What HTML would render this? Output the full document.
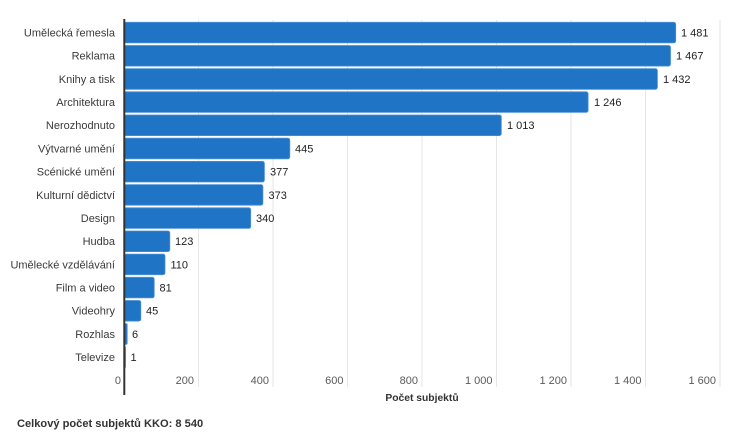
<!DOCTYPE html>
<html><head><meta charset="utf-8"><style>
html,body{margin:0;padding:0;background:#fff;}
svg{display:block;font-family:"Liberation Sans",Arial,sans-serif;}
</style></head><body>
<svg width="750" height="441" viewBox="0 0 750 441" xmlns="http://www.w3.org/2000/svg">
<g stroke="#e6e6e6" stroke-width="1">
<line x1="198.5" y1="20" x2="198.5" y2="387"/>
<line x1="273" y1="20" x2="273" y2="387"/>
<line x1="347.5" y1="20" x2="347.5" y2="387"/>
<line x1="422" y1="20" x2="422" y2="387"/>
<line x1="496.5" y1="20" x2="496.5" y2="387"/>
<line x1="571" y1="20" x2="571" y2="387"/>
<line x1="645.5" y1="20" x2="645.5" y2="387"/>
<line x1="720" y1="20" x2="720" y2="387"/>
</g>
<g fill="#1f74c6" stroke="#4a90d4" stroke-width="0.8">
<rect x="124" y="22.3" width="551.7" height="20.6" rx="2"/>
<rect x="124" y="45.5" width="546.5" height="20.6" rx="2"/>
<rect x="124" y="68.7" width="533.4" height="20.6" rx="2"/>
<rect x="124" y="91.8" width="464.1" height="20.6" rx="2"/>
<rect x="124" y="115.0" width="377.3" height="20.6" rx="2"/>
<rect x="124" y="138.2" width="165.8" height="20.6" rx="2"/>
<rect x="124" y="161.4" width="140.4" height="20.6" rx="2"/>
<rect x="124" y="184.6" width="138.9" height="20.6" rx="2"/>
<rect x="124" y="207.8" width="126.7" height="20.6" rx="2"/>
<rect x="124" y="231.0" width="45.8" height="20.6" rx="2"/>
<rect x="124" y="254.1" width="41.0" height="20.6" rx="2"/>
<rect x="124" y="277.3" width="30.2" height="20.6" rx="2"/>
<rect x="124" y="300.5" width="16.8" height="20.6" rx="2"/>
<rect x="124" y="323.7" width="3.2" height="20.6" rx="1"/>
<rect x="124" y="346.9" width="1.5" height="20.6" rx="0.5"/>
</g>
<line x1="124.3" y1="19" x2="124.3" y2="395" stroke="#333" stroke-width="2"/>
<g font-size="11" fill="#3a3a3a" text-anchor="end">
<text x="115" y="36.5">Umělecká řemesla</text>
<text x="115" y="59.7">Reklama</text>
<text x="115" y="82.9">Knihy a tisk</text>
<text x="115" y="106.0">Architektura</text>
<text x="115" y="129.2">Nerozhodnuto</text>
<text x="115" y="152.4">Výtvarné umění</text>
<text x="115" y="175.6">Scénické umění</text>
<text x="115" y="198.8">Kulturní dědictví</text>
<text x="115" y="222.0">Design</text>
<text x="115" y="245.2">Hudba</text>
<text x="115" y="268.3">Umělecké vzdělávání</text>
<text x="115" y="291.5">Film a video</text>
<text x="115" y="314.7">Videohry</text>
<text x="115" y="337.9">Rozhlas</text>
<text x="115" y="361.1">Televize</text>
</g>
<g font-size="11" fill="#222">
<text x="681" y="36.5">1 481</text>
<text x="676" y="59.7">1 467</text>
<text x="663" y="82.9">1 432</text>
<text x="594" y="106.0">1 246</text>
<text x="507" y="129.2">1 013</text>
<text x="295" y="152.4">445</text>
<text x="270" y="175.6">377</text>
<text x="268.5" y="198.8">373</text>
<text x="256" y="222.0">340</text>
<text x="175" y="245.2">123</text>
<text x="170.5" y="268.3">110</text>
<text x="159.5" y="291.5">81</text>
<text x="146" y="314.7">45</text>
<text x="132" y="337.9">6</text>
<text x="130.5" y="361.1">1</text>
</g>
<g font-size="11" fill="#5a5a5a" text-anchor="end">
<text x="121" y="384">0</text>
<text x="194" y="384">200</text>
<text x="269" y="384">400</text>
<text x="343.5" y="384">600</text>
<text x="418" y="384">800</text>
<text x="492.5" y="384">1 000</text>
<text x="567" y="384">1 200</text>
<text x="641.5" y="384">1 400</text>
<text x="716" y="384">1 600</text>
</g>
<text x="422" y="401" font-size="10.3" font-weight="bold" fill="#333" text-anchor="middle">Počet subjektů</text>
<text x="17" y="427" font-size="11.1" font-weight="bold" fill="#333">Celkový počet subjektů KKO: 8 540</text>
</svg>
</body></html>
